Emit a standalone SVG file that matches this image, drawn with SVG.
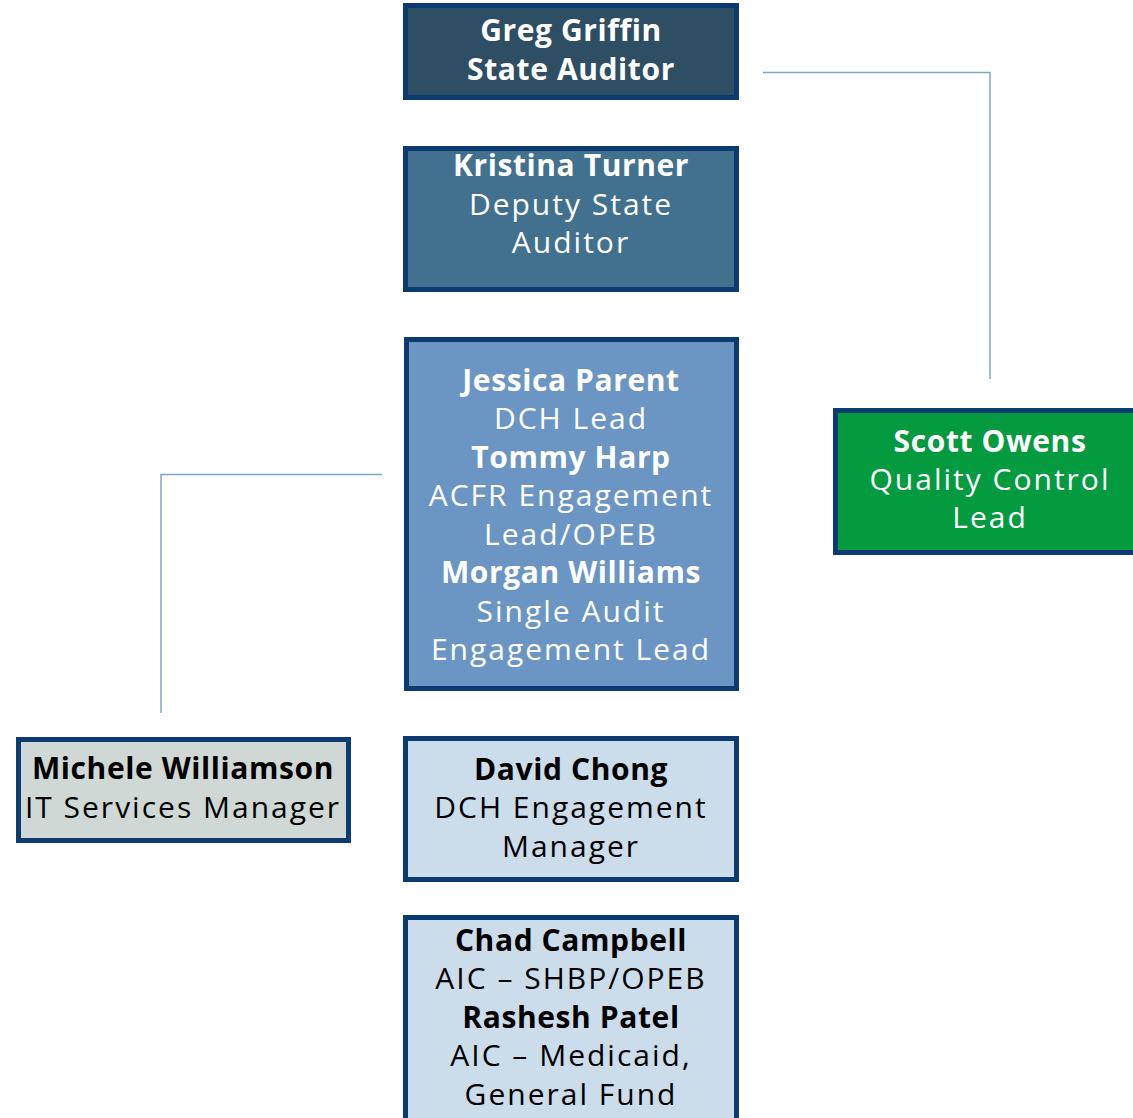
<svg xmlns="http://www.w3.org/2000/svg" width="1133" height="1118" viewBox="0 0 1133 1118">
<style>
.box{stroke:#0b3b70;stroke-width:5}
text{font-family:"Open Sans","DejaVu Sans",sans-serif;font-size:30px;text-anchor:middle;letter-spacing:2px}
.b{font-weight:bold;letter-spacing:0.6px}
.w{fill:#ffffff}
.k{fill:#000000}
.conn{fill:none;stroke:#7aa7cc;stroke-width:1.5}
</style>
<rect width="1133" height="1118" fill="#ffffff"/>
<g id="connectors">
<path class="conn" d="M763,72.5 H990 V379"/>
<path class="conn" d="M382,474.5 H161 V713"/>
</g>
<g id="greg">
<rect class="box" x="405.5" y="5.5" width="331" height="92" fill="#2e4e64"/>
<text class="w b" x="571" y="41">Greg Griffin</text>
<text class="w b" x="571" y="80">State Auditor</text>
</g>
<g id="kristina">
<rect class="box" x="405.5" y="148.5" width="331" height="141" fill="#41718f"/>
<text class="w b" x="571" y="176">Kristina Turner</text>
<text class="w" x="571" y="215">Deputy State</text>
<text class="w" x="571" y="253">Auditor</text>
</g>
<g id="leads">
<rect class="box" x="406.5" y="339.5" width="330" height="349" fill="#6b96c3"/>
<text class="w b" x="571" y="391">Jessica Parent</text>
<text class="w" x="571" y="429">DCH Lead</text>
<text class="w b" x="571" y="468">Tommy Harp</text>
<text class="w" x="571" y="506">ACFR Engagement</text>
<text class="w" x="571" y="545">Lead/OPEB</text>
<text class="w b" x="571" y="583">Morgan Williams</text>
<text class="w" x="571" y="622">Single Audit</text>
<text class="w" x="571" y="660">Engagement Lead</text>
</g>
<g id="scott">
<rect class="box" x="835.5" y="410.5" width="302" height="142" fill="#039a40"/>
<text class="w b" x="990" y="452">Scott Owens</text>
<text class="w" x="990" y="490">Quality Control</text>
<text class="w" x="990" y="528">Lead</text>
</g>
<g id="michele">
<rect class="box" x="18.5" y="739.5" width="330" height="101" fill="#cfd8d4"/>
<text class="k b" x="183" y="779">Michele Williamson</text>
<text class="k" x="183" y="818">IT Services Manager</text>
</g>
<g id="david">
<rect class="box" x="405.5" y="738.5" width="331" height="141" fill="#cbdcea"/>
<text class="k b" x="571" y="780">David Chong</text>
<text class="k" x="571" y="818">DCH Engagement</text>
<text class="k" x="571" y="857">Manager</text>
</g>
<g id="aic">
<rect class="box" x="405.5" y="917.5" width="331" height="210" fill="#cbdcea"/>
<text class="k b" x="571" y="951">Chad Campbell</text>
<text class="k" x="571" y="989">AIC – SHBP/OPEB</text>
<text class="k b" x="571" y="1028">Rashesh Patel</text>
<text class="k" x="571" y="1066">AIC – Medicaid,</text>
<text class="k" x="571" y="1105">General Fund</text>
</g>
</svg>
